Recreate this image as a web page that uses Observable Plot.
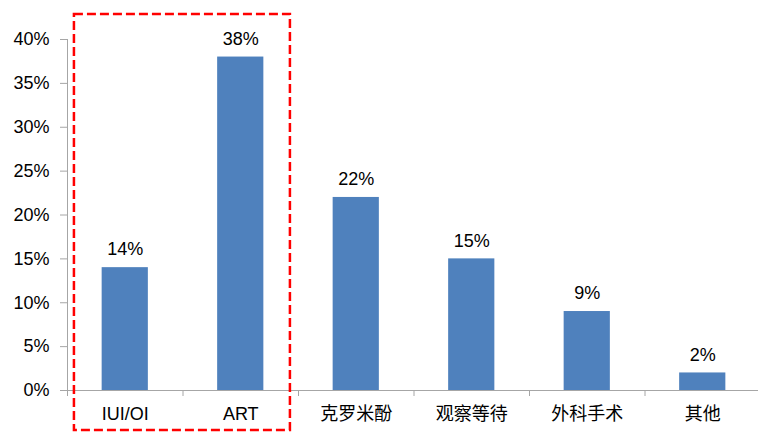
<!DOCTYPE html>
<html><head><meta charset="utf-8">
<script src="https://cdn.jsdelivr.net/npm/d3@7"></script>
<script src="https://cdn.jsdelivr.net/npm/@observablehq/plot@0.6"></script>
<style>html,body{margin:0;padding:0;background:#fff;}</style>
</head><body><div id="chart"></div>
<script>
const categories = ["IUI/OI", "ART", "克罗米酚", "观察等待", "外科手术", "其他"];
const shares = [14, 38, 22, 15, 9, 2];
const yTicks = [0, 5, 10, 15, 20, 25, 30, 35, 40];
const highlight = ["IUI/OI", "ART"];

const data = categories.map((c, i) => ({c, i, v: shares[i]}));
const hl = highlight.map(h => categories.indexOf(h));
const boundaries = d3.range(categories.length + 1).map(i => i - 0.5);
const axisGrey = "#a6a6a6";

const chart = Plot.plot({
  width: 758, height: 433,
  marginTop: 39, marginBottom: 43, marginLeft: 67, marginRight: 0,
  style: {fontFamily: "'Liberation Sans', Arial, 'Noto Sans CJK SC', sans-serif", fontSize: "18px", color: "#000", background: "#fff"},
  x: {domain: [-0.5, categories.length - 0.5], range: [67, 760]},
  y: {domain: [0, 40]},
  marks: [
    Plot.rect(data, {x1: d => d.i - 0.2, x2: d => d.i + 0.2, y1: 0, y2: "v", fill: "#4F81BD"}),
    Plot.ruleX([-0.5], {y1: 0, y2: 40, stroke: axisGrey}),
    Plot.ruleY([0], {x1: -0.5, x2: categories.length - 0.5, stroke: axisGrey}),
    Plot.axisY({ticks: yTicks, tickSize: 7, tickPadding: 11, tickFormat: d => d + "%", stroke: axisGrey, fill: "#000", fontSize: 18, label: null}),
    Plot.axisX({ticks: boundaries, tickSize: 6, tickFormat: () => "", stroke: axisGrey, label: null}),
    Plot.axisX({ticks: d3.range(categories.length), tickSize: 0, tickPadding: 17, tickFormat: i => categories[i], fill: "#000", fontSize: 18, label: null}),
    Plot.text(data, {x: "i", y: "v", text: d => d.v + "%", dy: -18, fontSize: 18, fill: "#000"}),
    Plot.rect([{}], {x1: hl[0] - 0.44, x2: hl[1] + 0.43, y1: -4.56, y2: 42.85, fill: "none", stroke: "#ff0000", strokeWidth: 2.5, strokeDasharray: "9,4"})
  ]
});
document.getElementById("chart").appendChild(chart);
</script>
</body></html>
